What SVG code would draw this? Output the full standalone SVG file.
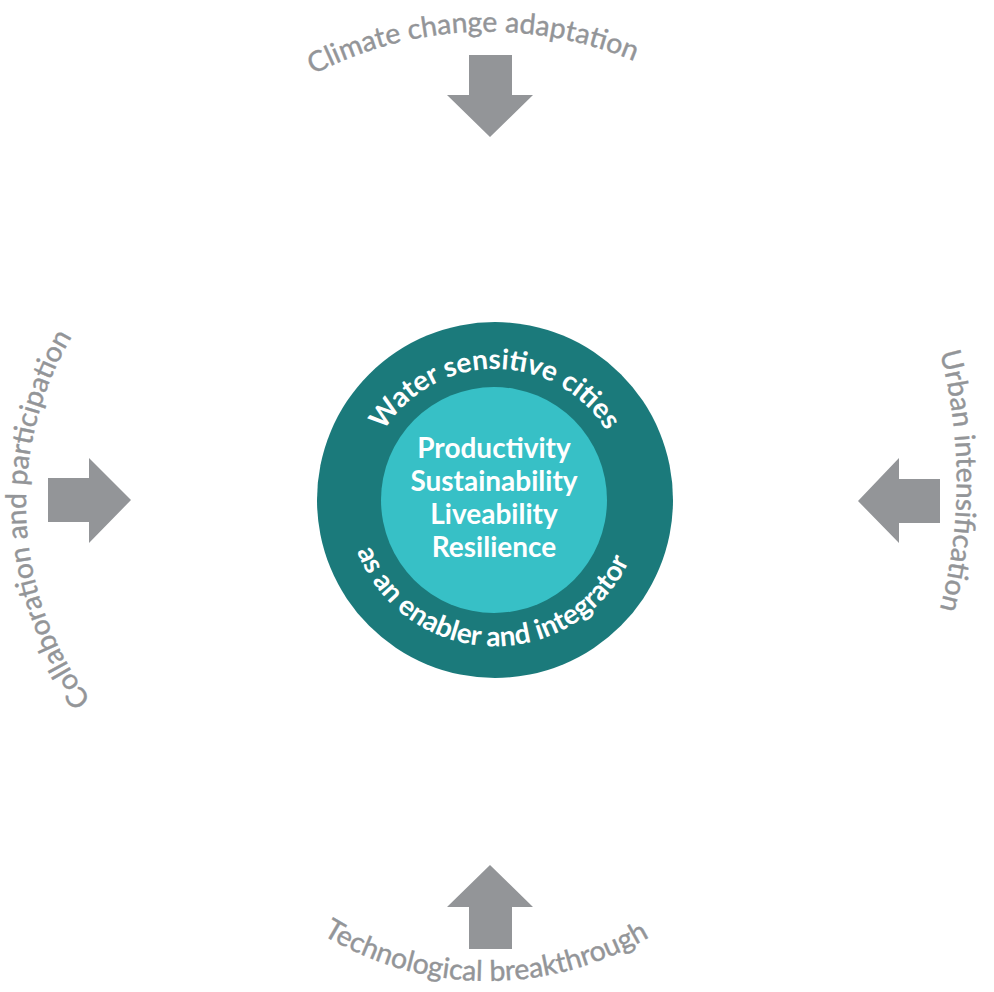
<svg xmlns="http://www.w3.org/2000/svg" xmlns:xlink="http://www.w3.org/1999/xlink" width="994" height="992" viewBox="0 0 994 992">
  <style>
    .lbl { font-family: Lato, "Liberation Sans", sans-serif; font-size: 28.4px; fill: #939598; stroke: #939598; stroke-width: 0.4px; }
    .ring { font-family: Lato, "Liberation Sans", sans-serif; font-weight: bold; font-size: 28px; fill: #ffffff; }
    .core { font-family: Lato, "Liberation Sans", sans-serif; font-weight: bold; font-size: 28px; fill: #ffffff; text-anchor: middle; }
    .arrow { fill: #939598; }
  </style>
  <defs>
    <path id="pTop" d="M 111.1 414.6 A 377 377 0 0 1 864.5 388.3" fill="none"/>
    <path id="pBottom" d="M 170 663 A 318 318 0 0 0 806 663" fill="none"/>
    <path id="pLeft" d="M 365.4 831.8 A 328 328 0 0 1 331.1 176.8" fill="none"/>
    <path id="pRight" d="M 466.7 -18.9 A 500 500 0 0 1 466.7 980.9" fill="none"/>
    <path id="pRingTop" d="M 364 500 A 131 131 0 0 1 626 500" fill="none"/>
    <path id="pRingBottom" d="M 347.1 494.8 A 148 148 0 0 0 642.9 505.2" fill="none"/>
  </defs>
  <rect width="994" height="992" fill="#ffffff"/>

  <g id="center">
    <circle cx="495" cy="500" r="178" fill="#1b7a7b"/>
    <circle cx="494" cy="500" r="113" fill="#37c0c6"/>
    <text class="ring"><textPath xlink:href="#pRingTop" href="#pRingTop" startOffset="50%" text-anchor="middle">Water sensitive cities</textPath></text>
    <text class="ring"><textPath xlink:href="#pRingBottom" href="#pRingBottom" startOffset="50%" text-anchor="middle">as an enabler and integrator</textPath></text>
    <text class="core" x="494" y="458">Productivity</text>
    <text class="core" x="494" y="491">Sustainability</text>
    <text class="core" x="494" y="524">Liveability</text>
    <text class="core" x="494" y="557">Resilience</text>
  </g>

  <g id="label-top">
    <text class="lbl"><textPath xlink:href="#pTop" href="#pTop" startOffset="582" text-anchor="middle">Climate change adaptation</textPath></text>
  </g>
  <g id="label-bottom">
    <text class="lbl"><textPath xlink:href="#pBottom" href="#pBottom" startOffset="497" text-anchor="middle">Technological breakthrough</textPath></text>
  </g>
  <g id="label-left">
    <text class="lbl"><textPath xlink:href="#pLeft" href="#pLeft" startOffset="50%" text-anchor="middle">Collaboration and participation</textPath></text>
  </g>
  <g id="label-right">
    <text class="lbl"><textPath xlink:href="#pRight" href="#pRight" startOffset="50%" text-anchor="middle">Urban intensification</textPath></text>
  </g>

  <g id="connectors">
    <polygon class="arrow" points="469,55 512,55 512,95 533,95 490,137 447,95 469,95"/>
    <polygon class="arrow" points="490,865 533,907 512,907 512,949 469,949 469,907 447,907"/>
    <polygon class="arrow" points="48,478 89,478 89,458 131,500 89,543 89,522 48,522"/>
    <polygon class="arrow" points="858,501 899,458 899,479 940,479 940,523 899,523 899,543"/>
  </g>
</svg>
